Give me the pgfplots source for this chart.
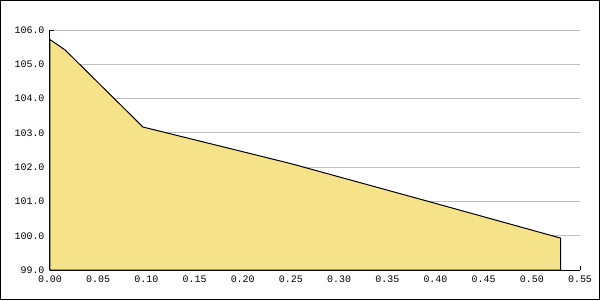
\documentclass[border=0pt]{standalone}
\usepackage{pgfplots}
\pgfplotsset{compat=1.18}
\usepackage{fontspec}
\setmainfont{Liberation Mono}
\definecolor{fillc}{RGB}{246,226,136}
\definecolor{gridc}{RGB}{192,192,192}
\begin{document}
\begin{tikzpicture}[x=1bp,y=1bp]
\begin{axis}[
  at={(0,0)}, anchor=south west,
  scale only axis, width=530bp, height=240bp,
  xmin=0, xmax=0.55, ymin=99, ymax=106,
  axis x line*=bottom, axis y line*=left,
  axis line style={line width=1bp, black},
  xtick={0,0.05,0.10,0.15,0.20,0.25,0.30,0.35,0.40,0.45,0.50,0.55},
  ytick={99,100,101,102,103,104,105,106},
  minor y tick num=1,
  ymajorgrids,
  major grid style={gridc, line width=1bp},
  tick align=inside,
  major tick length=4bp, minor tick length=4bp,
  tick style={black, line width=1bp},
  tick label style={font=\fontsize{10}{12}\selectfont},
  /pgf/number format/assume math mode=true,
  xticklabel style={/pgf/number format/.cd, fixed, fixed zerofill, precision=2},
  yticklabel style={/pgf/number format/.cd, fixed, fixed zerofill, precision=1},
  xticklabel shift=2bp, yticklabel shift=2bp,
  clip=false,
]
\addplot[fill=fillc, draw=black, line width=1bp] coordinates {
  (0,105.72) (0.0156,105.42) (0.0965,103.17) (0.249,102.11) (0.394,100.99) (0.530,99.93)
} \closedcycle;
\end{axis}
\draw[black, line width=1bp] (-49.5,-29.5) rectangle (549.5,269.5);
\end{tikzpicture}
\end{document}
